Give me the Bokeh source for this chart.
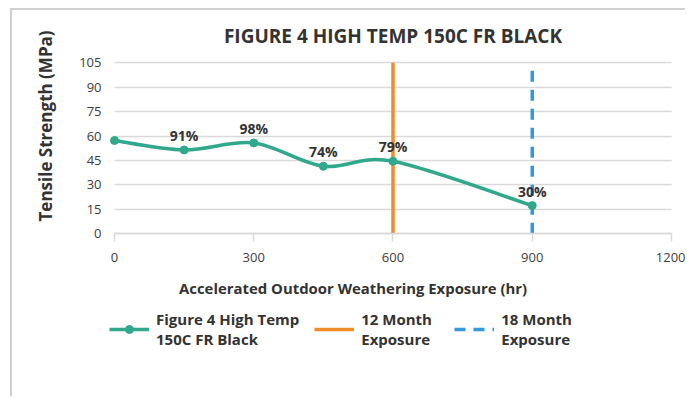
import numpy as np
from bokeh.plotting import figure
from bokeh.models import (Range1d, FixedTicker, Legend, LegendItem,
                          ColumnDataSource, LabelSet, Title, Label)
from bokeh.embed import file_html
from bokeh.resources import INLINE
from bokeh.core.properties import value

# ---- data ----
hours = [0, 150, 300, 450, 600, 900]
strength = [57.3, 51.5, 55.8, 41.5, 44.5, 17.3]
retention = ["", "91%", "98%", "74%", "79%", "30%"]
month12_x = [600, 600]
month18_x = [900, 900]
marker_y = [0, 105]
x_ticks = [0, 300, 600, 900, 1200]
y_ticks = [0, 15, 30, 45, 60, 75, 90, 105]
chart_title = "FIGURE 4 HIGH TEMP 150C FR BLACK"
x_title = "Accelerated Outdoor Weathering Exposure (hr)"
y_title = "Tensile Strength (MPa)"

TEAL = "#31A88C"
ORANGE = "#F28C28"
BLUE = "#3499DB"
GRID = "#D9D9D9"
FONT = "Open Sans"
DARK = "#333333"

# the frame also hosts the title and legend areas (outside 0..105 / 0..1200)
p = figure(width=675, height=388, output_backend="svg", toolbar_location=None,
           x_range=Range1d(-19.4, 1234.5), y_range=Range1d(-77.8, 137.1),
           min_border_left=93, min_border_right=0,
           min_border_top=0, min_border_bottom=38)
p.styles = {"margin-left": "10px", "margin-top": "8px",
            "border-left": "2px solid #D0D0D0",
            "border-top": "2px solid #D0D0D0"}
p.outline_line_color = None
p.background_fill_color = "white"
p.border_fill_color = "white"

# axes
p.xaxis.ticker = FixedTicker(ticks=x_ticks)
p.yaxis.ticker = FixedTicker(ticks=y_ticks)
for ax in (p.xaxis[0], p.yaxis[0]):
    ax.major_label_text_font = FONT
    ax.major_label_text_font_size = "13px"
    ax.major_label_text_color = "#404040"
    ax.minor_tick_line_color = None

p.xaxis.fixed_location = 0
p.xaxis.bounds = (x_ticks[0], x_ticks[-1])
p.xaxis.axis_line_color = GRID
p.xaxis.axis_line_width = 1.5
p.xaxis.major_tick_line_color = GRID
p.xaxis.major_tick_line_width = 1.5
p.xaxis.major_tick_in = 0
p.xaxis.major_tick_out = 8
p.xaxis.major_label_standoff = 11

p.yaxis.axis_line_color = None
p.yaxis.major_tick_line_color = None
p.yaxis.major_tick_in = 0
p.yaxis.major_tick_out = 0
p.yaxis.major_label_standoff = 4

p.xgrid.grid_line_color = None
p.ygrid.grid_line_color = GRID
p.ygrid.grid_line_width = 1.5
yg = p.ygrid[0]
if "cross_bounds" in yg.properties():
    yg.cross_bounds = (x_ticks[0], x_ticks[-1])

# titles
p.add_layout(Label(x=600, y=121.3, text=chart_title, text_align="center",
                   text_baseline="middle", text_font=FONT,
                   text_font_size="19px", text_font_style="bold",
                   text_color=DARK))
ytitle = Title(text=y_title, align="left", offset=139,
               standoff=39, text_font=FONT, text_font_size="17px",
               text_font_style="bold", text_color=DARK)
p.add_layout(ytitle, "left")
p.add_layout(Label(x=514, y=-33, text=x_title,
                   text_align="center", text_baseline="middle",
                   text_font=FONT, text_font_size="14.9px",
                   text_font_style="bold", text_color=DARK))

# vertical exposure markers
r12 = p.line(month12_x, marker_y, line_color=ORANGE, line_width=3.5)
r18 = p.line(month18_x, marker_y, line_color=BLUE, line_width=3.5,
             line_dash="11 8")

# smoothed series (Excel-style smoothing via cubic Bezier segments)
P = np.column_stack([hours, strength]).astype(float)
prev = np.vstack([P[:1], P[:-1]])
nxt = np.vstack([P[1:], P[-1:]])
tang = (nxt - prev) / 6.0
seg = ColumnDataSource(dict(
    x0=P[:-1, 0], y0=P[:-1, 1], x1=P[1:, 0], y1=P[1:, 1],
    cx0=P[:-1, 0] + tang[:-1, 0], cy0=P[:-1, 1] + tang[:-1, 1],
    cx1=P[1:, 0] - tang[1:, 0], cy1=P[1:, 1] - tang[1:, 1]))
rc = p.bezier(x0="x0", y0="y0", x1="x1", y1="y1", cx0="cx0", cy0="cy0",
              cx1="cx1", cy1="cy1", source=seg, line_color=TEAL, line_width=3.5)

src = ColumnDataSource(dict(x=hours, y=strength, lab=retention))
rs = p.scatter("x", "y", source=src, size=8, fill_color=TEAL, line_color=TEAL)

labels = LabelSet(x="x", y="y", text="lab", source=src, text_align="center",
                  text_baseline="alphabetic", y_offset=9,
                  text_font=value(FONT), text_font_size=value("14px"),
                  text_font_style="bold", text_color=DARK)
p.add_layout(labels)

legend = Legend(items=[
    LegendItem(label="Figure 4 High Temp\n150C FR Black", renderers=[rc, rs]),
    LegendItem(label="12 Month\nExposure", renderers=[r12]),
    LegendItem(label="18 Month\nExposure", renderers=[r18]),
], orientation="horizontal", location=(4, 11))
legend.label_text_font = FONT
legend.label_text_font_size = "15px"
legend.label_text_font_style = "bold"
legend.label_text_color = DARK
legend.glyph_width = 40
legend.label_standoff = 7
legend.label_width = 78
legend.spacing = 15
legend.padding = 0
legend.margin = 0
legend.border_line_color = None
legend.background_fill_alpha = 0
p.add_layout(legend, "center")

open("out.html", "w").write(file_html(p, INLINE))
